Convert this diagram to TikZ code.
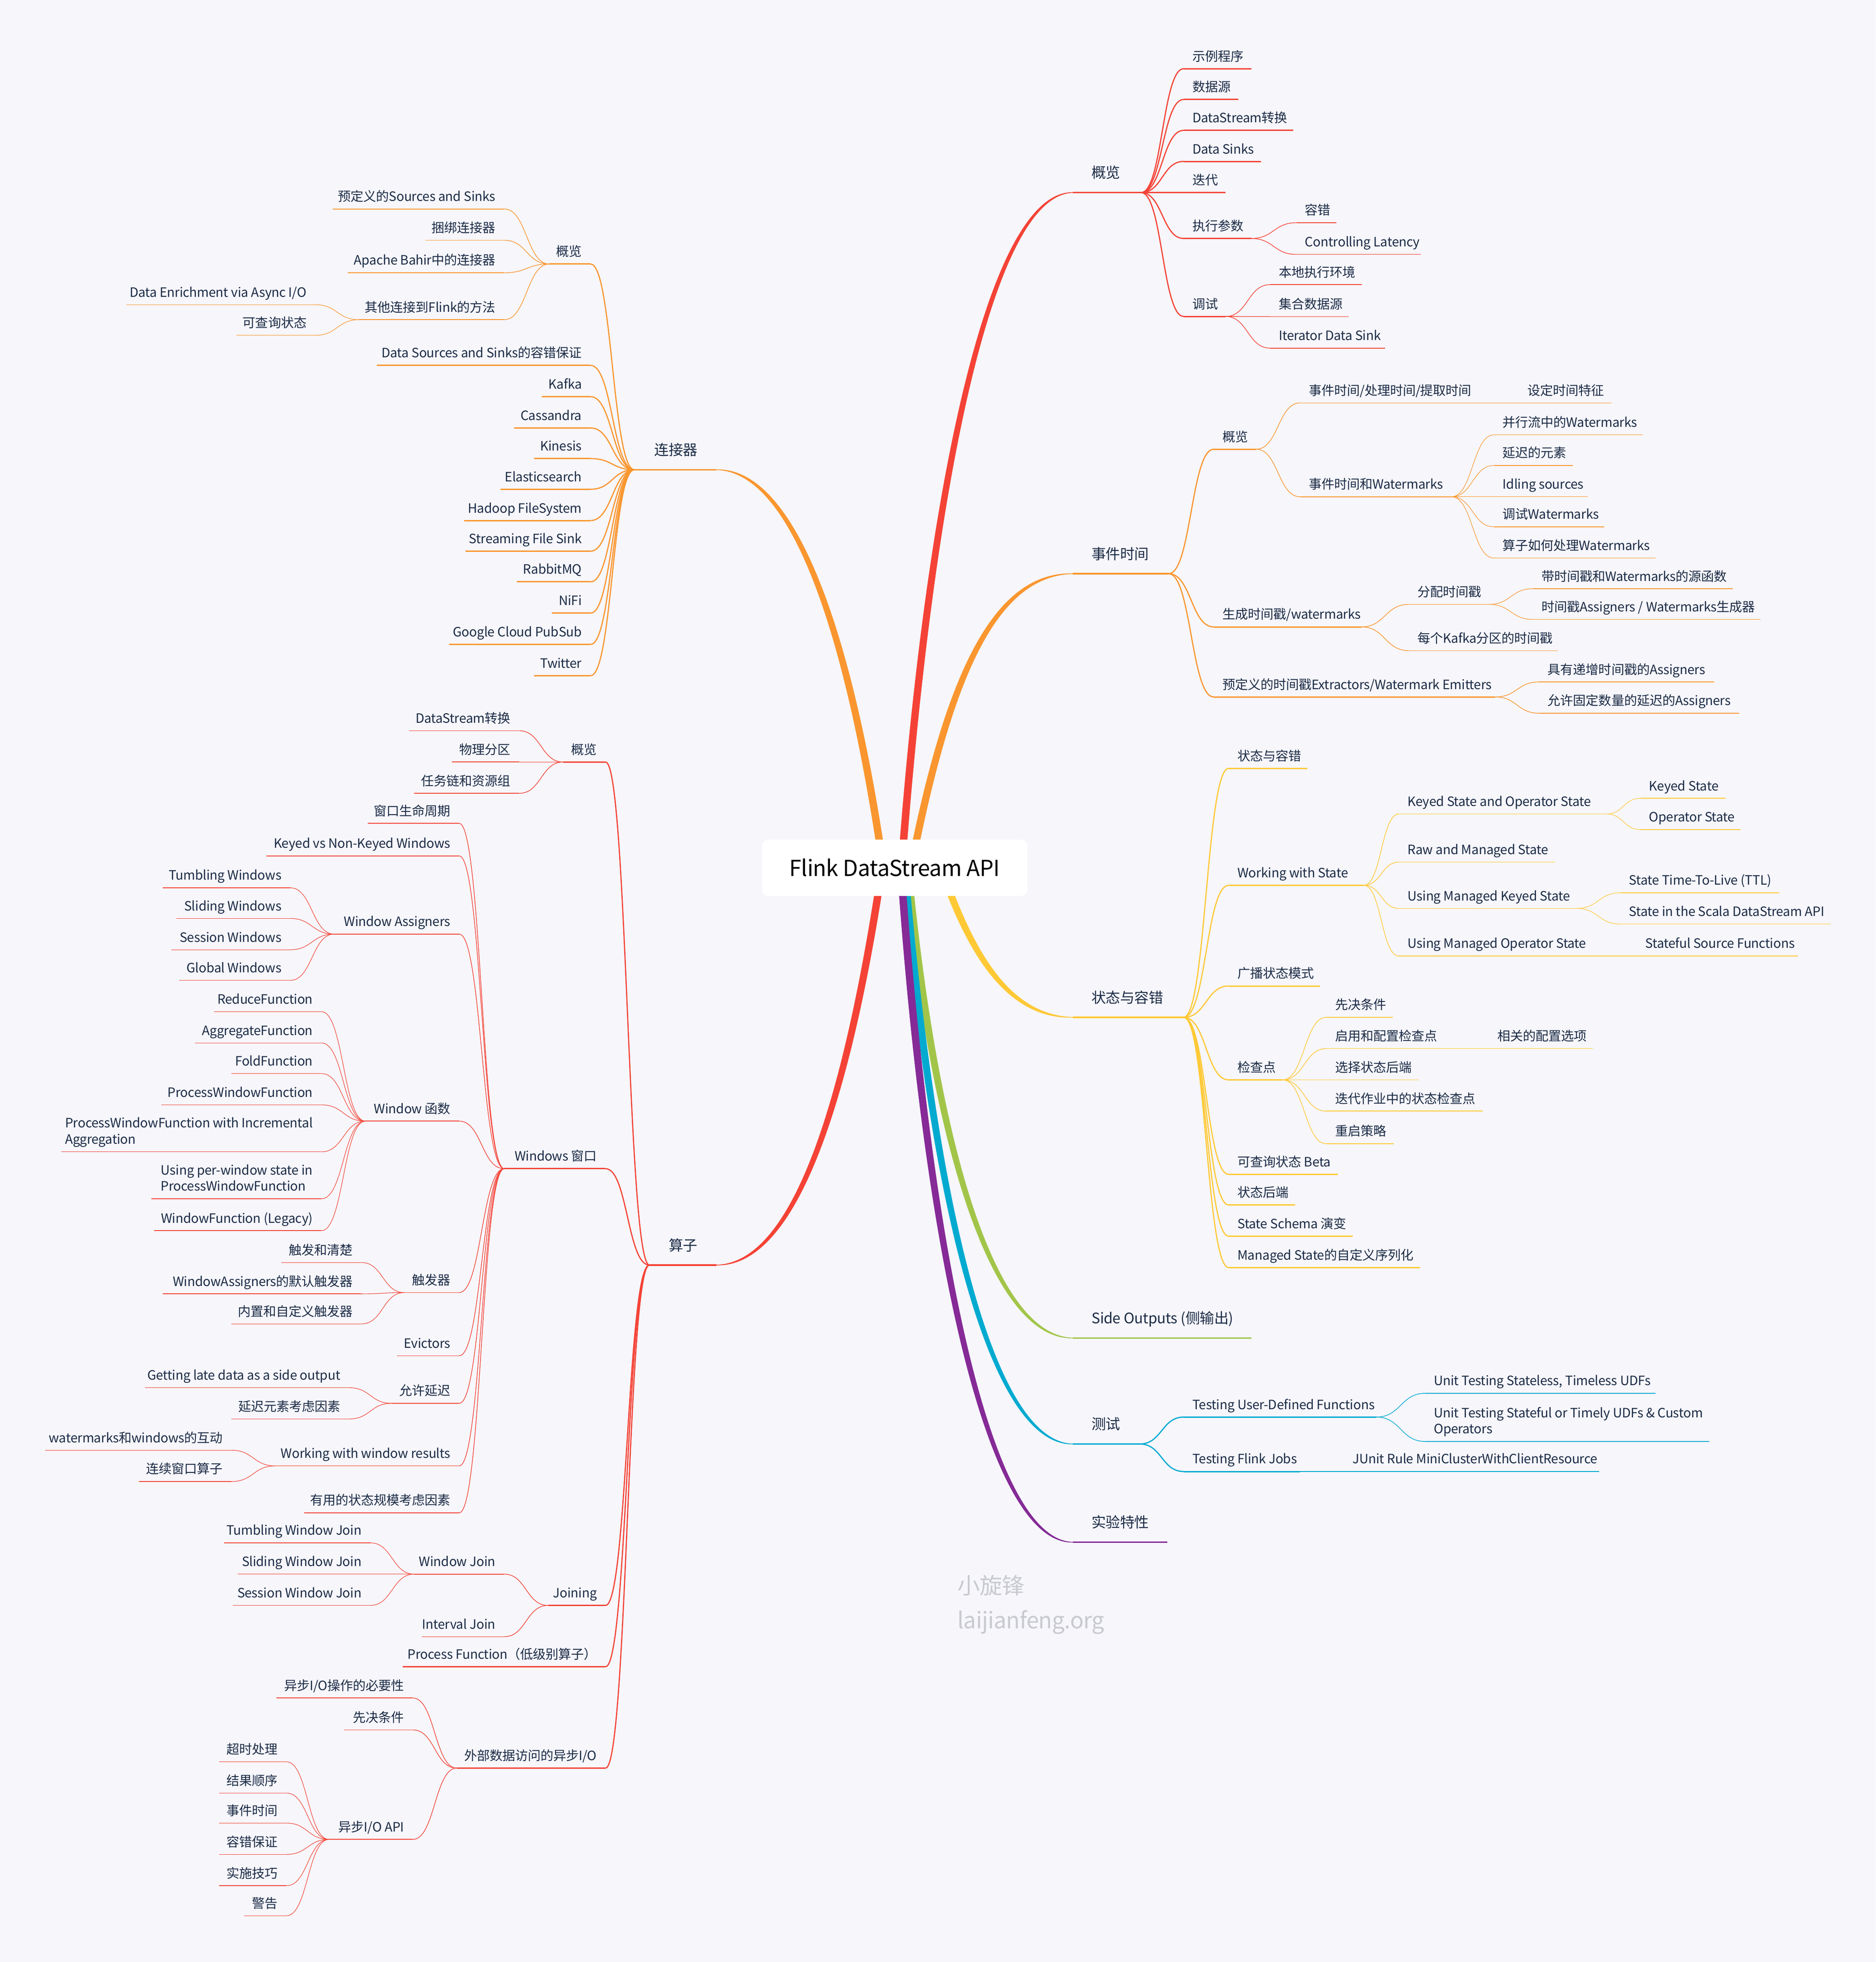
\documentclass[tikz,border=0pt]{standalone}
\usepackage{fontspec}
\setmainfont[LetterSpace=-1.2]{Noto Sans CJK SC}
\usetikzlibrary{calc, backgrounds}

\definecolor{paper}{HTML}{F6F6FB}
\definecolor{ink}{HTML}{1B2B45}
\definecolor{mapred}{HTML}{F44336}
\definecolor{maporange}{HTML}{FA962F}
\definecolor{mapyellow}{HTML}{FFC936}
\definecolor{mapgreen}{HTML}{A2C549}
\definecolor{mapblue}{HTML}{03AAD0}
\definecolor{mappurple}{HTML}{852A96}
\definecolor{markgray}{HTML}{C8CAD0}
\colorlet{tone}{mapred}

\tikzset{
	topic/.style={inner sep=0pt, outer sep=0pt, anchor=south west, text=ink},
	lvlone/.style={line width=1.2pt, text depth=11.5pt, font=\fontsize{11.6}{14}\selectfont},
	lvltwo/.style={line width=1.1pt, text depth=6.2pt, font=\fontsize{10.3}{13}\selectfont},
	lvlthree/.style={line width=0.6pt, text depth=6.2pt, font=\fontsize{10.3}{13}\selectfont},
	lvlfour/.style={line width=0.5pt, text depth=6.2pt, font=\fontsize{10.3}{13}\selectfont},
	rootbox/.style={fill=white, rounded corners=5pt, minimum width=212pt, minimum height=45pt, inner sep=0pt, font=\fontsize{17.6}{21}\selectfont, text=black},
	markword/.style={anchor=west, inner sep=0pt, text=markgray, font=\fontsize{18}{22}\selectfont},
}

% level, name, x1, x2, y, text (pad in the option)
\newcommand{\rnode}[7][7]{%
	\node[topic,#2] (#3) at (#4,#6) {\makebox[\dimexpr#5pt-#4pt\relax][l]{\hspace{#1pt}#7}};
	\draw[#2,tone] (#3.south west) -- (#3.south east);
}
\newcommand{\lnode}[7][7]{%
	\node[topic,#2] (#3) at (#4,#6) {\makebox[\dimexpr#5pt-#4pt\relax][r]{#7\hspace{#1pt}}};
	\draw[#2,tone] (#3.south west) -- (#3.south east);
}
\newcommand{\rlink}[3]{%
	\coordinate (m) at ($(#2.south east)!.5!(#3.south west)$);
	\draw[#1,tone,line width=0.85\pgflinewidth] (#2.south east) .. controls (#2.south east -| m) and (#3.south west -| m) .. (#3.south west);
}
\newcommand{\llink}[3]{%
	\coordinate (m) at ($(#2.south west)!.5!(#3.south east)$);
	\draw[#1,tone,line width=0.85\pgflinewidth] (#2.south west) .. controls (#2.south west -| m) and (#3.south east -| m) .. (#3.south east);
}
% level, parent, then name/x1/x2/y/text
\newcommand{\rbranch}[3]{%
	\foreach \n/\xa/\xb/\y/\txt in {#3} {
		\rnode{#1}{\n}{\xa}{\xb}{\y}{\txt}
		\rlink{#1}{#2}{\n}
	}
}
\newcommand{\lbranch}[3]{%
	\foreach \n/\xa/\xb/\y/\txt in {#3} {
		\lnode{#1}{\n}{\xa}{\xb}{\y}{\txt}
		\llink{#1}{#2}{\n}
	}
}
% colour, start x from the root centre, target anchor, two controls, side
\newcommand{\rootlink}[6]{%
	\fill[#1] ($(root.center)+(#2-3,0)$) .. controls ($(#4)+(-3,0)$) and ($(#5)+(-1.7,#6*1.7)$) .. ($(#3)+(0,#6*0.25)$)
		-- ($(#3)+(0,#6*-0.25)$) .. controls ($(#5)+(1.7,#6*-1.7)$) and ($(#4)+(3,0)$) .. ($(root.center)+(#2+3,0)$) -- cycle;
}
\newcommand{\twolines}[2]{\begin{tabular}[b]{@{}l@{}}#1\\#2\end{tabular}}

\begin{document}
\begin{tikzpicture}[x=1pt, y=-1pt]
	\useasboundingbox (0,0) rectangle (1499,1568);
	\node[rootbox] (root) at (715,693.5) {Flink DataStream API};

	% first level
	\colorlet{tone}{mapred}
	\rnode[15]{lvlone}{ovw}{857.4}{912}{153.9}{概览}
	\colorlet{tone}{maporange}
	\rnode[15]{lvlone}{evt}{857.4}{934}{458.5}{事件时间}
	\colorlet{tone}{mapyellow}
	\rnode[15]{lvlone}{sta}{857.4}{946}{813}{状态与容错}
	\colorlet{tone}{mapgreen}
	\rnode[15]{lvlone}{sid}{857.4}{1000}{1069.3}{Side Outputs (侧输出)}
	\colorlet{tone}{mapblue}
	\rnode[15]{lvlone}{tst}{857.4}{911}{1154}{测试}
	\colorlet{tone}{mappurple}
	\rnode[15]{lvlone}{exp}{857.4}{933}{1232.5}{实验特性}
	\colorlet{tone}{maporange}
	\lnode[15]{lvlone}{con}{507}{572.6}{375.4}{连接器}
	\colorlet{tone}{mapred}
	\lnode[15]{lvlone}{opr}{519}{572.6}{1011}{算子}

	% overview
	\colorlet{tone}{mapred}
	\rbranch{lvltwo}{ovw}{
		ovwa/946/1000/54.9/示例程序, ovwb/946/989.7/79.5/数据源,
		ovwc/946/1033.6/104.2/DataStream转换, ovwd/946/1007.7/129/Data Sinks,
		ovwe/946/979.5/153.9/迭代, ovwf/946/1000/190.6/执行参数, ovwg/946/979.5/252.9/调试}
	\rbranch{lvlthree}{ovwf}{ovfa/1036/1068/178/容错, ovfb/1036/1135.5/203.3/Controlling Latency}
	\rbranch{lvlthree}{ovwg}{ovga/1015/1088.3/227.5/本地执行环境, ovgb/1015/1078/253/集合数据源, ovgc/1015/1107/278.2/Iterator Data Sink}

	% event time
	\colorlet{tone}{maporange}
	\rbranch{lvltwo}{evt}{
		evta/970/1004/359/概览, evtb/970/1088/501/生成时间戳{/}watermarks,
		evtc/970/1195/557/预定义的时间戳Extractors{/}Watermark Emitters}
	\rbranch{lvlthree}{evta}{eaa/1039/1179/322/事件时间{/}处理时间{/}提取时间, eab/1039/1160/397/事件时间和Watermarks}
	\rbranch{lvlfour}{eaa}{eaaa/1214/1288/322/设定时间特征}
	\rbranch{lvlfour}{eab}{
		eaba/1194/1313/347.5/并行流中的Watermarks, eabb/1194/1257/372/延迟的元素,
		eabc/1194/1269/397/Idling sources, eabd/1194/1282/421/调试Watermarks,
		eabe/1194/1323/446/算子如何处理Watermarks}
	\rbranch{lvlthree}{evtb}{eba/1126/1190/483/分配时间戳, ebb/1126/1245/520/每个Kafka分区的时间戳}
	\rbranch{lvlfour}{eba}{ebaa/1225/1385/470.5/带时间戳和Watermarks的源函数, ebab/1225/1407/495/时间戳Assigners {/} Watermarks生成器}
	\rbranch{lvlthree}{evtc}{eca/1230/1370/545/具有递增时间戳的Assigners, ecb/1230/1390/570/允许固定数量的延迟的Assigners}

	% state
	\colorlet{tone}{mapyellow}
	\rbranch{lvltwo}{sta}{
		staa/982/1045/614/状态与容错, stab/982/1090/707.5/Working with State, stac/982/1055/788/广播状态模式,
		stad/982/1025/863/检查点, stae/982/1069/938.5/可查询状态 Beta, staf/982/1035/963/状态后端,
		stag/982/1081/988/State Schema 演变, stah/982/1135/1013/Managed State的自定义序列化}
	\rbranch{lvlthree}{stab}{
		sba/1118/1284/650.5/Keyed State and Operator State, sbb/1118/1243/689/Raw and Managed State,
		sbc/1118/1260/726/Using Managed Keyed State, sbd/1118/1272/764/Using Managed Operator State}
	\rbranch{lvlfour}{sba}{sbaa/1311/1379/638/Keyed State, sbab/1311/1391/663/Operator State}
	\rbranch{lvlfour}{sbc}{sbca/1295/1422/713.5/State Time-To-Live (TTL), sbcb/1295/1463/738.5/State in the Scala DataStream API}
	\rbranch{lvlfour}{sbd}{sbda/1308/1437/764/Stateful Source Functions}
	\rbranch{lvlthree}{stad}{
		sda/1060/1113/813/先决条件, sdb/1060/1155/838/启用和配置检查点, sdc/1060/1134/863/选择状态后端,
		sdd/1060/1185/888/迭代作业中的状态检查点, sde/1060/1114/914/重启策略}
	\rbranch{lvlfour}{sdb}{sdba/1190/1273/838/相关的配置选项}

	% testing
	\colorlet{tone}{mapblue}
	\rbranch{lvltwo}{tst}{tsta/946/1100/1132.5/Testing User-Defined Functions, tstb/946/1039/1176/Testing Flink Jobs}
	\rbranch{lvlthree}{tsta}{
		taa/1139/1323/1113.5/{Unit Testing Stateless, Timeless UDFs},
		tab/1139/1366/1152/{\twolines{Unit Testing Stateful or Timely UDFs \& Custom}{Operators}}}
	\rbranch{lvlthree}{tstb}{tba/1074/1278/1176/JUnit Rule MiniClusterWithClientResource}

	% connectors
	\colorlet{tone}{maporange}
	\lbranch{lvltwo}{con}{
		cona/439/472/211/概览, conb/301/472/292/Data Sources and Sinks的容错保证, conc/433/472/317/Kafka,
		cond/411/472/342/Cassandra, cone/427/472/366.5/Kinesis, conf/400/472/391/Elasticsearch,
		cong/371/472/416/Hadoop FileSystem, conh/372/472/440.5/Streaming File Sink, coni/413/472/465/RabbitMQ,
		conj/441/472/490/NiFi, conk/359/472/515/Google Cloud PubSub, conl/427/472/540/Twitter}
	\lbranch{lvlthree}{cona}{
		caa/266/403/167/预定义的Sources and Sinks, cab/340/403/192/捆绑连接器,
		cac/278/403/218/Apache Bahir中的连接器, cad/287/403/255.5/其他连接到Flink的方法}
	\lbranch{lvlfour}{cad}{cada/101/252/243.5/Data Enrichment via Async I{/}O, cadb/189/252/268/可查询状态}

	% operators
	\colorlet{tone}{mapred}
	\lbranch{lvltwo}{opr}{
		opra/450/484/609/概览, oprb/403/484/934/Windows 窗口, oprc/438/484/1283/Joining,
		oprd/322/484/1332/Process Function（低级别算子）, opre/365/484/1413/外部数据访问的异步I{/}O}
	\lbranch{lvlthree}{opra}{paa/327/415/584/DataStream转换, pab/361/415/609/物理分区, pac/331/415/634/任务链和资源组}
	\lbranch{lvlthree}{oprb}{
		pba/294/367/658/窗口生命周期, pbb/213/367/684/Keyed vs Non-Keyed Windows, pbc/267/367/746.5/Window Assigners,
		pbd/292/367/896/Window 函数, pbe/323/367/1033/触发器, pbf/317/367/1083.5/Evictors,
		pbg/313/367/1121.5/允许延迟, pbh/220/367/1171.5/Working with window results, pbi/243/367/1209/有用的状态规模考虑因素}
	\lbranch{lvlfour}{pbc}{
		pca/130/232/709.5/Tumbling Windows, pcb/141/232/734/Sliding Windows,
		pcc/137/232/759/Session Windows, pcd/143/232/783.5/Global Windows}
	\lbranch{lvlfour}{pbd}{
		pda/171/257/808.5/ReduceFunction, pdb/156/257/833.5/AggregateFunction, pdc/185/257/858/FoldFunction,
		pdd/129/257/883/ProcessWindowFunction,
		pde/49/257/920.5/{\twolines{ProcessWindowFunction with Incremental}{Aggregation}},
		pdf/121/257/958/{\twolines{Using per-window state in}{ProcessWindowFunction}},
		pdg/123/257/983.5/WindowFunction (Legacy)}
	\lbranch{lvlfour}{pbe}{pea/225/289/1009/触发和清楚, peb/130/289/1034/WindowAssigners的默认触发器, pec/185/289/1058/内置和自定义触发器}
	\lbranch{lvlfour}{pbg}{pga/116/279/1109/Getting late data as a side output, pgb/185/279/1134/延迟元素考虑因素}
	\lbranch{lvlfour}{pbh}{pha/36/185/1159/watermarks和windows的互动, phb/111/185/1184/连续窗口算子}
	\lbranch{lvlthree}{oprc}{jna/331/403/1258/Window Join, jnb/337/403/1308/Interval Join}
	\lbranch{lvlfour}{jna}{jaa/179/296/1233/Tumbling Window Join, jab/190/296/1258/Sliding Window Join, jac/186/296/1283/Session Window Join}
	\lbranch{lvlthree}{opre}{ioa/221/330/1357/异步I{/}O操作的必要性, iob/275/330/1382.5/先决条件, ioc/263/330/1470/异步I{/}O API}
	\lbranch{lvlfour}{ioc}{
		ica/175/229/1408/超时处理, icb/175/229/1433/结果顺序, icc/175/229/1457/事件时间,
		icd/175/229/1482/容错保证, ice/175/229/1507/实施技巧, icf/195/229/1531/警告}

	\node[markword] (marka) at (765,1267) {小旋锋};
	\node[markword] (markb) at (765,1296.5) {laijianfeng.org};

	\begin{scope}[on background layer]
		\fill[paper] (0,0) rectangle (1499,1568);
		\rootlink{mapred}{5.5}{ovw.south west}{742,400}{790,153.9}{-1}
		\rootlink{maporange}{13}{evt.south west}{758,540}{795,458.5}{-1}
		\rootlink{mapyellow}{37}{sta.south west}{775,760}{805,813}{1}
		\rootlink{mapgreen}{10.5}{sid.south west}{745,900}{790,1069.3}{1}
		\rootlink{mapblue}{8}{tst.south west}{744,950}{790,1154}{1}
		\rootlink{mappurple}{5}{exp.south west}{741,1000}{790,1232.5}{1}
		\rootlink{maporange}{-9}{con.south east}{678,500}{633,375.4}{1}
		\rootlink{mapred}{-10}{opr.south east}{680,860}{640,1011}{-1}
	\end{scope}
\end{tikzpicture}
\end{document}
